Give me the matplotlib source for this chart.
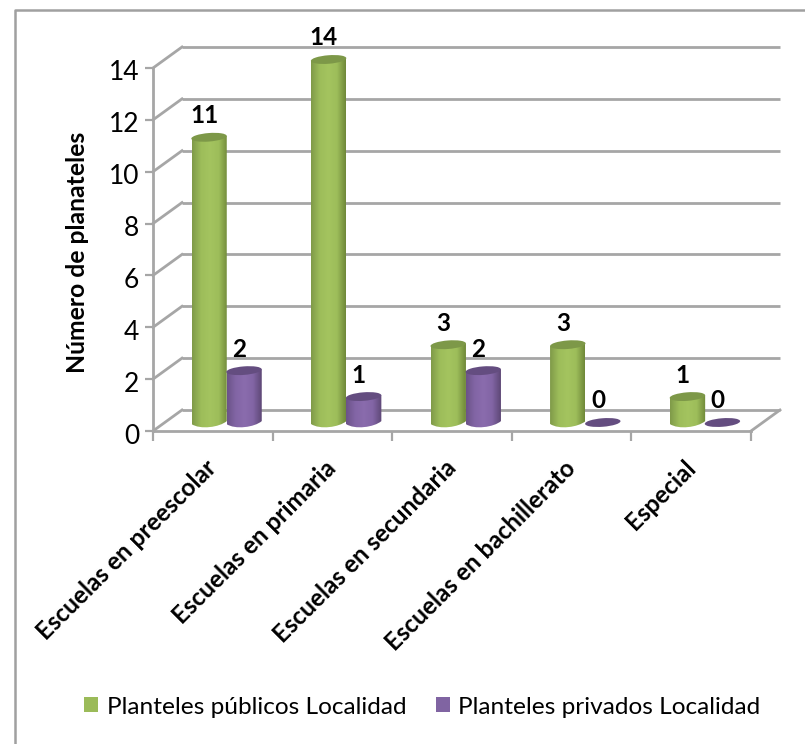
import numpy as np
import matplotlib
matplotlib.use("Agg")
import matplotlib.pyplot as plt
from matplotlib.patches import Ellipse, PathPatch, Patch
from matplotlib.path import Path
from matplotlib.colors import LinearSegmentedColormap
from matplotlib.transforms import ScaledTranslation, Affine2D

categories = ["Escuelas en preescolar", "Escuelas en primaria", "Escuelas en secundaria",
              "Escuelas en bachillerato", "Especial"]
publicos = [11, 14, 3, 3, 1]
privados = [2, 1, 2, 0, 0]
series_names = ["Planteles públicos Localidad", "Planteles privados Localidad"]
y_ticks = [0, 2, 4, 6, 8, 10, 12, 14]
y_title = "Número de planateles"

W, H = 805, 744
GRID = "#a6a6a6"
plt.rcParams["font.family"] = ["Lato", "DejaVu Sans"]
fig = plt.figure(figsize=(W / 100, H / 100), dpi=100)
fig.patch.set_facecolor("white")

# chart frame
fig.add_artist(plt.Line2D([14.5 / W, 14.5 / W, 1], [0, 1 - 9.5 / H, 1 - 9.5 / H], color="#a0a0a0", lw=1.8,
                          transform=fig.transFigure))

L, R, T, B = 153, 751, 68, 431
ax = fig.add_axes([L / W, 1 - B / H, (R - L) / W, (B - T) / H])
ax.set_xlim(0, 5)
ax.set_ylim(0, 14)
ax.patch.set_alpha(0)
for s in ("top", "right"):
    ax.spines[s].set_visible(False)
for s in ("left", "bottom"):
    ax.spines[s].set_color(GRID)
    ax.spines[s].set_linewidth(2)
ax.set_yticks(y_ticks)
ax.tick_params(axis="y", length=6, width=1.6, color=GRID, labelsize=19, pad=4, labelcolor="black")
ax.set_xticks(range(6))
ax.set_xticklabels([])
ax.tick_params(axis="x", which="major", length=7, width=1.6, color=GRID)
ax.set_xticks(np.arange(5) + 0.5, minor=True)
ax.set_xticklabels(categories, minor=True, rotation=45, ha="right", rotation_mode="anchor",
                   fontsize=17.5, fontweight="bold")
ax.tick_params(axis="x", which="minor", length=0, pad=11)


def px(dx, dy):
    return ScaledTranslation(dx / 100, -dy / 100, fig.dpi_scale_trans)


for lab in ax.get_xticklabels(minor=True):
    lab.set_transform(lab.get_transform() + px(-8, 10))
for lab in ax.get_yticklabels():
    lab.set_transform(lab.get_transform() + px(0, 2.5))
ax.set_ylabel(y_title, fontsize=17.8, fontweight="bold")
ax.yaxis.set_label_coords((89 - L) / (R - L), (B - 252) / (B - T))

# walls and floor
DX, DY = 29, -21
back = ax.transData + px(DX, DY)
for v in y_ticks:
    ax.plot([0, 5], [v, v], color=GRID, lw=2, transform=back, clip_on=False, zorder=1,
            solid_capstyle="butt")
    p0 = ax.transData.transform((0, v))
    ax.add_artist(plt.Line2D([p0[0], p0[0] + DX], [p0[1], p0[1] - DY], color=GRID, lw=2,
                             transform=None, zorder=1, clip_on=False))
p1 = ax.transData.transform((5, 0))
ax.add_artist(plt.Line2D([p1[0], p1[0] + DX], [p1[1], p1[1] - DY], color=GRID, lw=2,
                         transform=None, zorder=1, clip_on=False))

cm_g = LinearSegmentedColormap.from_list("g", ["#7f9a49", "#9dbd5a", "#a4c45f", "#9dbd5a", "#6f8839"])
cm_p = LinearSegmentedColormap.from_list("p", ["#6b5388", "#8265a5", "#8a6cad", "#8265a5", "#5d4775"])
GRAD = np.linspace(0, 1, 128).reshape(1, -1)
BW = 35 / 119.6          # bar width in category units
WPX, HPX = 35.5, 8.5     # ellipse size in pixels
TILT = 4.5               # ellipse tilt in degrees
base = ax.transData + px(0, -8.5)


def cylinder(xc, val, cmap, top, z):
    cx, cy0 = base.transform((xc, 0))
    _, cy1 = base.transform((xc, val))
    hw = WPX / 2
    dy = hw * np.tan(np.radians(TILT))
    if val > 0:
        verts = [(cx - hw, cy1 - dy), (cx - hw, cy0 - dy),
                 (cx - hw * .5, cy0 - dy - HPX * .72), (cx + hw * .6, cy0 + dy - HPX * .72),
                 (cx + hw, cy0 + dy), (cx + hw, cy1 + dy), (cx - hw, cy1 - dy)]
        codes = [Path.MOVETO, Path.LINETO, Path.CURVE4, Path.CURVE4, Path.CURVE4, Path.LINETO,
                 Path.CLOSEPOLY]
        clip = PathPatch(Path(verts, codes), transform=Affine2D(), fc="none", ec="none")
        ax.add_patch(clip)
        x0, x1 = xc - BW / 2, xc + BW / 2
        im = ax.imshow(GRAD, cmap=cmap, extent=(x0, x1, -1, val + 1), aspect="auto", transform=base,
                       zorder=z, interpolation="bilinear")
        im.set_clip_box(fig.bbox)
        im.set_clip_path(clip)
    ax.add_patch(Ellipse((cx, cy1), WPX, HPX, angle=TILT, transform=Affine2D(), fc=top, ec="none",
                         zorder=z + .1, clip_on=False))


for i in range(5):
    xg = i + (56 / 119.6)
    xp = i + (91 / 119.6)
    cylinder(xg, publicos[i], cm_g, "#7d9848", 3)
    cylinder(xp, privados[i], cm_p, "#644d80", 4)
    for xc, v in ((xg, publicos[i]), (xp, privados[i])):
        ax.annotate(str(v), (xc, v), xycoords=base, xytext=(-3.5, 15.5), textcoords="offset points",
                    ha="center", va="center", fontsize=17.5, fontweight="bold", zorder=6,
                    annotation_clip=False)
ax.set_xlim(0, 5)
ax.set_ylim(0, 14)

# legend
handles = [Patch(fc="#9bbb59"), Patch(fc="#8064a2")]
fig.legend(handles, series_names, loc="center left", bbox_to_anchor=(84 / W, 1 - 707 / H), ncol=2,
           frameon=False, fontsize=17.6, handlelength=0.57, handleheight=0.57, handletextpad=0.36,
           columnspacing=1.2, borderpad=0, borderaxespad=0)

fig.savefig("out.png", dpi=100)
